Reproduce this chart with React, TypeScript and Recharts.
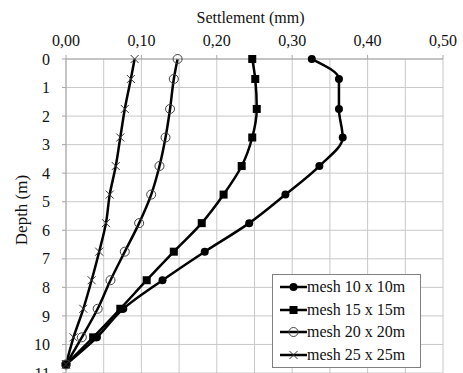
import React from 'react';
import { LineChart, Line, XAxis, YAxis, CartesianGrid, Legend } from 'recharts';

// depths (m) where settlement was sampled
const depths = [0, 0.7, 1.75, 2.75, 3.75, 4.75, 5.75, 6.75, 7.75, 8.75, 9.75, 10.7];

// settlement (mm) per mesh size
const mesh10 = [0.326, 0.362, 0.362, 0.367, 0.336, 0.291, 0.243, 0.184, 0.128, 0.076, 0.041, 0.0];
const mesh15 = [0.247, 0.251, 0.253, 0.247, 0.233, 0.209, 0.18, 0.143, 0.107, 0.072, 0.036, 0.0];
const mesh20 = [0.148, 0.143, 0.138, 0.132, 0.124, 0.113, 0.097, 0.078, 0.059, 0.042, 0.021, 0.0];
const mesh25 = [0.091, 0.086, 0.078, 0.072, 0.066, 0.058, 0.053, 0.044, 0.034, 0.023, 0.01, 0.0];

const xTicks = [0, 0.1, 0.2, 0.3, 0.4, 0.5];
const xGrid = [0, 0.05, 0.1, 0.15, 0.2, 0.25, 0.3, 0.35, 0.4, 0.45, 0.5];
const yTicks = [0, 1, 2, 3, 4, 5, 6, 7, 8, 9, 10, 11];

const series = [
  { key: 'm10', name: 'mesh 10 x 10m', marker: 'dot' },
  { key: 'm15', name: 'mesh 15 x 15m', marker: 'square' },
  { key: 'm20', name: 'mesh 20 x 20m', marker: 'ring' },
  { key: 'm25', name: 'mesh 25 x 25m', marker: 'cross' },
];

const data = depths.map((d, i) => ({
  depth: d,
  m10: mesh10[i],
  m15: mesh15[i],
  m20: mesh20[i],
  m25: mesh25[i],
}));

const serif = '"Liberation Serif", "Times New Roman", serif';

const Marker = ({ kind, cx, cy }: { kind: string; cx: number; cy: number }) => {
  if (cx == null || cy == null) return null;
  switch (kind) {
    case 'dot':
      return <circle cx={cx} cy={cy} r={4} fill="#000" />;
    case 'square':
      return <rect x={cx - 4} y={cy - 4} width={8} height={8} fill="#000" />;
    case 'ring':
      return <circle cx={cx} cy={cy} r={4.5} fill="none" stroke="#404040" strokeWidth={1} />;
    default:
      return (
        <g stroke="#333" strokeWidth={1}>
          <line x1={cx - 4} y1={cy - 4} x2={cx + 4} y2={cy + 4} />
          <line x1={cx - 4} y1={cy + 4} x2={cx + 4} y2={cy - 4} />
        </g>
      );
  }
};

const fmt = (v: number) => v.toFixed(2).replace('.', ',');

const renderLegend = () => (
  <div
    style={{
      border: '1px solid #808080',
      background: '#fff',
      width: 147,
      padding: '1px 0',
      fontFamily: serif,
    }}
  >
    {series.map((s) => (
      <div key={s.key} style={{ display: 'flex', alignItems: 'center', height: 22.6, fontSize: 16, color: '#111' }}>
        <svg width={34} height={14}>
          <line x1={7} y1={7} x2={34} y2={7} stroke="#000" strokeWidth={2.5} />
          <Marker kind={s.marker} cx={20.5} cy={7} />
        </svg>
        <span>{s.name}</span>
      </div>
    ))}
  </div>
);

export default function App() {
  return (
    <div style={{ position: 'absolute', left: 0, top: 0, fontFamily: serif }}>
      <LineChart
        width={463}
        height={400}
        data={data}
        layout="vertical"
        margin={{ top: 0, right: 20, left: 0, bottom: 27 }}
      >
        <CartesianGrid stroke="#c8c8c8" strokeWidth={1} verticalValues={xGrid} />
        <XAxis
          type="number"
          orientation="top"
          domain={[0, 0.5]}
          ticks={xTicks}
          interval={0}
          height={59}
          tickFormatter={fmt}
          tickSize={4}
          tickMargin={9}
          stroke="#a6a6a6"
          tick={{ fontSize: 16, fill: '#111', fontFamily: serif }}
          label={{ value: 'Settlement (mm)', position: 'insideTop', offset: 12, dx: -4, fontSize: 16, fill: '#111', fontFamily: serif }}
        />
        <YAxis
          type="number"
          dataKey="depth"
          domain={[0, 11]}
          ticks={yTicks}
          interval={0}
          width={66}
          tickSize={4}
          tickMargin={12}
          stroke="#a6a6a6"
          tick={{ fontSize: 16, fill: '#111', fontFamily: serif }}
          label={({ viewBox }: any) => (
            <text
              x={21}
              y={viewBox.y + viewBox.height / 2 - 6}
              transform={`rotate(-90 21 ${viewBox.y + viewBox.height / 2 - 6})`}
              textAnchor="middle"
              dominantBaseline="central"
              fontSize={17}
              fontFamily={serif}
              fill="#111"
            >
              Depth (m)
            </text>
          )}
        />
        <Legend
          layout="vertical"
          align="center"
          verticalAlign="middle"
          content={renderLegend}
          wrapperStyle={{ left: 272, top: 274, width: 149, bottom: 'auto', right: 'auto' }}
        />
        {series.map((s) => (
          <Line
            key={s.key}
            dataKey={s.key}
            name={s.name}
            type="monotone"
            stroke="#000"
            strokeWidth={2.5}
            isAnimationActive={false}
            dot={(p: any) => <Marker key={`${s.key}-${p.index}`} kind={s.marker} cx={p.cx} cy={p.cy} />}
            activeDot={false}
          />
        ))}
      </LineChart>
    </div>
  );
}
